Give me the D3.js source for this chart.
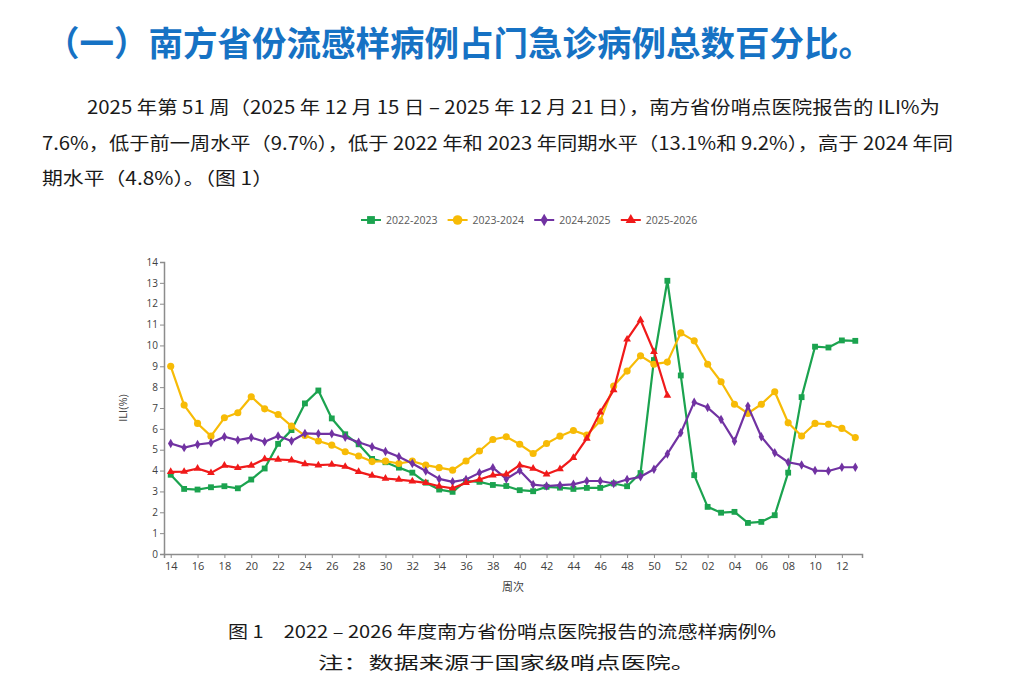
<!DOCTYPE html>
<html>
<head>
<meta charset="utf-8">
<script src="https://cdn.jsdelivr.net/npm/d3@7"></script>
<style>
  body { margin: 0; background: #fff; }
  svg { display: block; }
  .axis text { font-family: "Open Sans", "Noto Sans", sans-serif; font-size: 11px; fill: #404040; }
  .axis path, .axis line { stroke: #8c8c8c; }
</style>
</head>
<body>
<svg></svg>
<script>
let width = 1016;
let height = 688;

// weeks: 14..52 then 01..13
let weeks = ["14","15","16","17","18","19","20","21","22","23","24","25","26","27","28","29","30",
             "31","32","33","34","35","36","37","38","39","40","41","42","43","44","45","46","47",
             "48","49","50","51","52","01","02","03","04","05","06","07","08","09","10","11","12","13"];
let tickWeeks = weeks.filter((w, i) => i % 2 === 0);
let yTicks = [0,1,2,3,4,5,6,7,8,9,10,11,12,13,14];

let s2022 = [3.8, 3.12, 3.09, 3.2, 3.25, 3.15, 3.57, 4.1, 5.28, 5.94, 7.22, 7.84, 6.5, 5.74, 5.26, 4.56, 4.4,
             4.14, 3.9, 3.42, 3.09, 2.98, 3.5, 3.46, 3.31, 3.26, 3.06, 3.01, 3.22, 3.18, 3.12, 3.17, 3.17, 3.38,
             3.25, 3.88, 9.3, 13.1, 8.56, 3.78, 2.26, 1.98, 2.02, 1.49, 1.54, 1.86, 3.9, 7.52, 9.94, 9.9, 10.24, 10.22];
let s2023 = [9.0, 7.14, 6.26, 5.65, 6.53, 6.77, 7.54, 6.96, 6.69, 6.13, 5.68, 5.42, 5.22, 4.9, 4.7, 4.43, 4.45,
             4.34, 4.45, 4.26, 4.14, 4.02, 4.46, 4.94, 5.49, 5.62, 5.26, 4.82, 5.3, 5.65, 5.92, 5.7, 6.38, 8.05,
             8.77, 9.5, 9.1, 9.2, 10.6, 10.22, 9.1, 8.26, 7.18, 6.74, 7.18, 7.78, 6.29, 5.66, 6.26, 6.22, 6.02, 5.58];
let s2024 = [5.3, 5.1, 5.25, 5.33, 5.62, 5.46, 5.58, 5.38, 5.66, 5.42, 5.78, 5.76, 5.76, 5.6, 5.36, 5.14, 4.92,
             4.66, 4.34, 3.98, 3.6, 3.46, 3.57, 3.89, 4.14, 3.6, 4.0, 3.33, 3.26, 3.3, 3.34, 3.5, 3.5, 3.38,
             3.57, 3.7, 4.06, 4.8, 5.81, 7.28, 7.02, 6.45, 5.41, 7.09, 5.62, 4.85, 4.4, 4.27, 4.0, 3.98, 4.16, 4.16];
let s2025 = [3.94, 3.95, 4.1, 3.89, 4.24, 4.13, 4.24, 4.56, 4.53, 4.5, 4.32, 4.26, 4.29, 4.19, 3.94, 3.76, 3.62,
             3.57, 3.49, 3.41, 3.25, 3.15, 3.41, 3.57, 3.78, 3.82, 4.26, 4.1, 3.82, 4.08, 4.61, 5.54, 6.8, 7.86,
             10.29, 11.22, 9.7, 7.6];

let seriesNames = ["2022-2023", "2023-2024", "2024-2025", "2025-2026"];
let seriesValues = [s2022, s2023, s2024, s2025];
let colours = ["#1ba34f", "#f7bb06", "#7132a2", "#f01a1a"];
let symbols = [d3.symbolSquare, d3.symbolCircle, d3.symbolDiamond, d3.symbolTriangle];
let symbolSizes = [34, 40, 26, 26];

let titleText = "（一）南方省份流感样病例占门急诊病例总数百分比。";
let paraLines = ["2025 年第 51 周（2025 年 12 月 15 日 – 2025 年 12 月 21 日），南方省份哨点医院报告的 ILI%为",
                 "7.6%，低于前一周水平（9.7%），低于 2022 年和 2023 年同期水平（13.1%和 9.2%），高于 2024 年同",
                 "期水平（4.8%）。（图 1）"];
let captionText = "图 1　2022 – 2026 年度南方省份哨点医院报告的流感样病例%";
let noteText = "注：数据来源于国家级哨点医院。";

let svg = d3.select("svg")
  .attr("width", width)
  .attr("height", height);

const cjk = '"Noto Sans CJK SC", "Noto Sans", sans-serif';

// heading
svg.append("text")
  .attr("x", 45)
  .attr("y", 56)
  .style("font-family", cjk)
  .style("font-size", "34.5px")
  .style("font-weight", "bold")
  .style("fill", "#1672c4")
  .text(titleText);

// paragraph, one svg text per line
let paraPos = [{x: 87, y: 114, w: 853}, {x: 42, y: 150, w: 911}, {x: 42, y: 185, w: 231}];
svg.selectAll(".para")
  .data(paraLines)
  .enter()
  .append("text")
    .attr("class", "para")
    .attr("x", (d, i) => paraPos[i].x)
    .attr("y", (d, i) => paraPos[i].y)
    .attr("textLength", (d, i) => paraPos[i].w)
    .attr("lengthAdjust", "spacingAndGlyphs")
    .style("font-family", cjk)
    .style("font-size", "18px")
    .style("fill", "#1a1a1a")
    .text(d => d);

// scales
let x = d3.scalePoint()
  .domain(weeks)
  .range([164, 862])
  .padding(0.5);

let y = d3.scaleLinear()
  .domain([0, 14])
  .range([554, 262]);

// axes
svg.append("g")
  .attr("class", "axis")
  .attr("transform", "translate(0,554)")
  .call(d3.axisBottom(x).tickValues(tickWeeks).tickSize(4).tickPadding(4))
  .call(g => g.select(".domain").style("stroke-width", 1.5));

svg.append("g")
  .attr("class", "axis")
  .attr("transform", "translate(164,0)")
  .call(d3.axisLeft(y).tickValues(yTicks).tickSize(4).tickPadding(2))
  .call(g => g.select(".domain").style("stroke-width", 1.5))
  .call(g => g.selectAll("text").style("font-size", "10px"));

svg.append("text")
  .attr("x", 513)
  .attr("y", 591)
  .attr("text-anchor", "middle")
  .style("font-family", cjk)
  .style("font-size", "11px")
  .style("fill", "#404040")
  .text("周次");

svg.append("text")
  .attr("transform", "translate(127,408) rotate(-90)")
  .attr("text-anchor", "middle")
  .style("font-family", '"Open Sans", sans-serif')
  .style("font-size", "11px")
  .style("fill", "#404040")
  .text("ILI(%)");

// lines + markers
let line = d3.line()
  .x((d, i) => x(weeks[i]))
  .y(d => y(d));

seriesValues.forEach((vals, k) => {
  svg.append("path")
    .datum(vals)
    .attr("fill", "none")
    .attr("stroke", colours[k])
    .attr("stroke-width", 2.2)
    .attr("stroke-linejoin", "round")
    .attr("d", line);

  svg.selectAll(".mark" + k)
    .data(vals)
    .enter()
    .append("path")
      .attr("class", "mark" + k)
      .attr("transform", (d, i) => "translate(" + x(weeks[i]) + "," + y(d) + ")")
      .attr("d", d3.symbol().type(symbols[k]).size(symbolSizes[k]))
      .style("fill", colours[k]);
});

// legend
let legend = svg.selectAll(".legend")
  .data(seriesNames)
  .enter().append("g")
  .attr("class", "legend")
  .attr("transform", (d, i) => "translate(" + (361 + i * 86.6) + ",220)");

legend.append("line")
  .attr("x1", 0)
  .attr("x2", 20)
  .attr("stroke", (d, i) => colours[i])
  .attr("stroke-width", 2);

legend.append("path")
  .attr("transform", "translate(10,0)")
  .attr("d", (d, i) => d3.symbol().type(symbols[i]).size(symbolSizes[i] * 1.8)())
  .style("fill", (d, i) => colours[i]);

legend.append("text")
  .attr("x", 25)
  .attr("dy", ".35em")
  .style("font-family", '"Open Sans", sans-serif')
  .style("font-size", "10.5px")
  .style("fill", "#595959")
  .text(d => d);

// caption + note
svg.append("text")
  .attr("x", 228)
  .attr("y", 638)
  .attr("textLength", 548)
  .attr("lengthAdjust", "spacingAndGlyphs")
  .style("font-family", cjk)
  .style("font-size", "17px")
  .style("fill", "#1a1a1a")
  .text(captionText);

svg.append("text")
  .attr("x", 318)
  .attr("y", 669)
  .attr("textLength", 378)
  .attr("lengthAdjust", "spacingAndGlyphs")
  .style("font-family", cjk)
  .style("font-size", "17px")
  .style("fill", "#1a1a1a")
  .text(noteText);
</script>
</body>
</html>
